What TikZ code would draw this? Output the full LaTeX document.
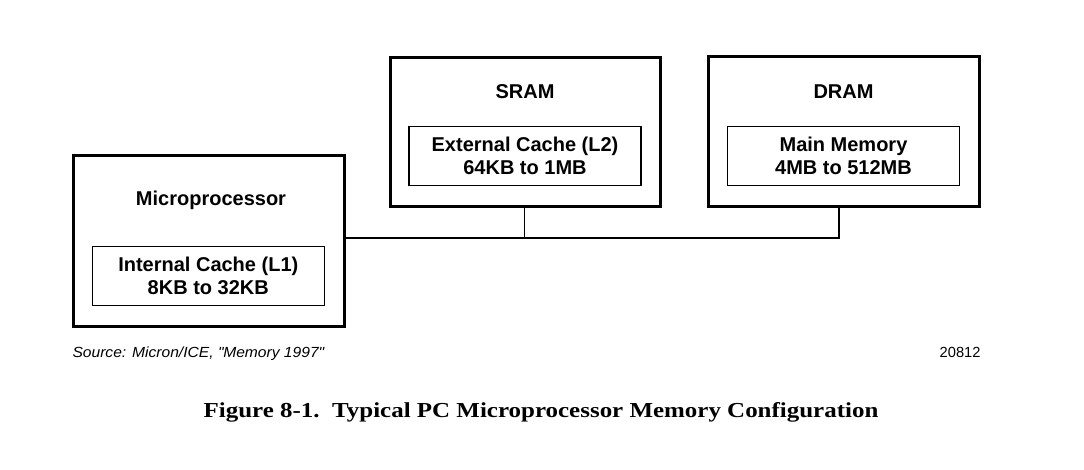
\documentclass[tikz,border=0pt]{standalone}
\usepackage{fontspec}
\setmainfont{Liberation Sans}
\newfontfamily\capfont[FakeStretch=1.17]{Liberation Serif}
\newfontfamily\srcfont[FakeStretch=1.065]{Liberation Sans}
\usetikzlibrary{positioning}

\tikzset{every picture/.style={line width=0.75pt}}
\tikzset{
  unitbox/.style={draw, line width=2.25pt, inner sep=0pt},
  cachebox/.style={draw, line width=1.1pt, inner sep=0pt, align=center,
    minimum width=174pt, minimum height=44.25pt,
    font=\bfseries\fontsize{15}{17.25}\selectfont},
  boxtitle/.style={inner sep=0.75pt, font=\bfseries\fontsize{15}{17.25}\selectfont},
  busline/.style={line width=1.1pt},
}

\begin{document}
\begin{tikzpicture}[x=0.75pt,y=0.75pt,yscale=-1,xscale=1]
\useasboundingbox (0,0) rectangle (1084,469);

% Microprocessor
\node [unitbox, minimum width=203.25pt, minimum height=128.25pt] (mp) at (209,241) {};
\node [boxtitle] (mptitle) at (211,200.5) {Microprocessor};
\node [cachebox] (l1) at (208.3,276.2) {Internal Cache (L1)\\8KB to 32KB};

% SRAM
\node [unitbox, minimum width=202.5pt, minimum height=111.75pt] (sram) at (525,131.5) {};
\node [boxtitle] (sramtitle) at (525,92) {SRAM};
\node [cachebox] (l2) at (525,156.2) {External Cache (L2)\\64KB to 1MB};

% DRAM
\node [unitbox, minimum width=203.25pt, minimum height=112.5pt] (dram) at (843.5,131) {};
\node [boxtitle] (dramtitle) at (843.5,92) {DRAM};
\node [cachebox] (mainmem) at (843.5,156) {Main Memory\\4MB to 512MB};

% Bus
\coordinate (jsram) at (524.5,238);
\coordinate (jdram) at (839,238);
\draw [busline] (sram.south -| jsram) -- (jsram);
\draw [busline] (mp.east |- jsram) -- (jdram) -- (dram.south -| jdram);

% Text Node
\node [anchor=base west, inner sep=0pt, font=\srcfont\itshape\fontsize{11}{13}\selectfont] (source) at (72,357) {Source: Micron/ICE, \textquotedbl Memory 1997\textquotedbl};
% Text Node
\node [anchor=base east, inner sep=0pt, font=\fontsize{11}{13}\selectfont] (figno) at (981,357) {20812};
% Text Node
\node [anchor=base, inner sep=0pt, font=\capfont\bfseries\fontsize{16}{19}\selectfont] (caption) at (541,417.5) {Figure 8-1.\ \ Typical PC Microprocessor Memory Configuration};

\end{tikzpicture}
\end{document}
